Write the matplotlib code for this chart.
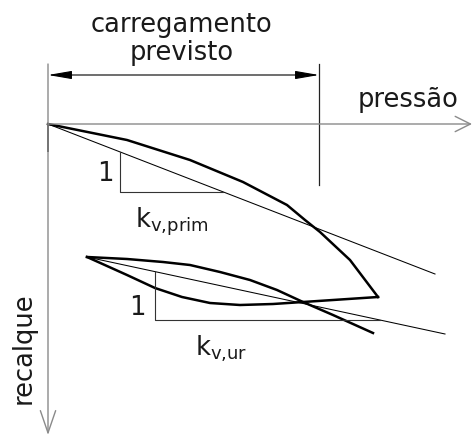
import matplotlib
matplotlib.use("Agg")
import matplotlib.pyplot as plt

# Settlement (recalque) vs. pressure (pressão) sketch, units are drawing units
# pressure grows to the right, settlement grows downward
primary_p = [0, 79, 142, 195, 239, 257, 272, 302, 330]
primary_s = [0, 16, 36, 58, 81, 96, 108, 136, 173]

unload_p = [330, 255, 225, 192, 162, 134, 107, 79, 39]
unload_s = [173, 178, 180, 181, 179, 173, 164, 151, 133]

reload_p = [39, 79, 115, 142, 172, 202, 229, 255, 285, 325]
reload_s = [133, 135, 138, 141, 148, 156, 166, 178, 191, 209]

# secant stiffness lines (start/end)
prim_line_p = [0, 387]
prim_line_s = [0, 150]
ur_line_p = [39, 397]
ur_line_s = [133, 210]

# slope triangles: corner pressure and bottom settlement
prim_tri_p = 72
prim_tri_s = 68
ur_tri_p = 107
ur_tri_s = 196

# expected load range on the pressure axis
load_range = [0, 271]

fig = plt.figure(figsize=(4.72, 4.36), dpi=100)
ax = fig.add_axes([0, 0, 1, 1])
ax.set_xlim(-48, 424)
ax.set_ylim(312, -124)
ax.axis("off")

font = "DejaVu Sans"
axis_col = "#8a8a8a"

# axes with open arrowheads
ax.annotate("", xy=(424, 0), xytext=(0, 0),
            arrowprops=dict(arrowstyle="->,head_length=1.1,head_width=0.55",
                            mutation_scale=10, color=axis_col, lw=1.0,
                            shrinkA=0, shrinkB=0))
ax.annotate("", xy=(0, 311), xytext=(0, -60),
            arrowprops=dict(arrowstyle="->,head_length=1.6,head_width=0.55",
                            mutation_scale=10, color=axis_col, lw=1.0,
                            shrinkA=0, shrinkB=0))
ax.plot([0, 0], [0, 28], color="#444444", lw=1.4, solid_capstyle="butt")

# dimension line for the expected load range
ax.plot([load_range[1], load_range[1]], [-60, 61], color="#222222", lw=0.9)
ax.annotate("", xy=(load_range[1], -49), xytext=(load_range[0], -49),
            arrowprops=dict(arrowstyle="<|-|>,head_length=1.45,head_width=0.25",
                            mutation_scale=10, color="black", lw=0.8,
                            shrinkA=0, shrinkB=0))

# load-settlement curves
curve_kw = dict(color="black", lw=1.8, solid_joinstyle="round")
ax.plot(primary_p, primary_s, **curve_kw)
ax.plot(unload_p, unload_s, **curve_kw)
ax.plot(reload_p, reload_s, **curve_kw)

# secant lines
thin_kw = dict(color="black", lw=0.75)
ax.plot(prim_line_p, prim_line_s, **thin_kw)
ax.plot(ur_line_p, ur_line_s, **thin_kw)

# slope triangles
def slope_triangle(p0, s0, p1, s1, p_corner, s_bottom):
    k = (s1 - s0) / (p1 - p0)
    s_top = s0 + k * (p_corner - p0)
    p_end = p0 + (s_bottom - s0) / k
    ax.plot([p_corner, p_corner, p_end], [s_top, s_bottom, s_bottom],
            color="#333333", lw=0.8)

slope_triangle(prim_line_p[0], prim_line_s[0], prim_line_p[1], prim_line_s[1],
               prim_tri_p, prim_tri_s)
slope_triangle(ur_line_p[0], ur_line_s[0], ur_line_p[1], ur_line_s[1],
               ur_tri_p, ur_tri_s)

txt = dict(fontsize=18.5, family=font, color="#1a1a1a")
ax.text(133, -92, "carregamento", ha="center", va="baseline", **txt)
ax.text(134, -64, "previsto", ha="center", va="baseline", **txt)
ax.text(360, -17, "pressão", ha="center", va="baseline", **txt)
ax.text(-24, 224, "recalque", ha="center", va="center", rotation=90, **txt)
ax.text(57, 57, "1", ha="center", va="baseline", **txt)
ax.text(89, 191, "1", ha="center", va="baseline", **txt)
ax.text(87, 103, r"$\mathregular{k_{v{,}prim}}$", ha="left", va="baseline", **txt)
ax.text(147, 231, r"$\mathregular{k_{v{,}ur}}$", ha="left", va="baseline", **txt)

fig.savefig("out.png", dpi=100)
